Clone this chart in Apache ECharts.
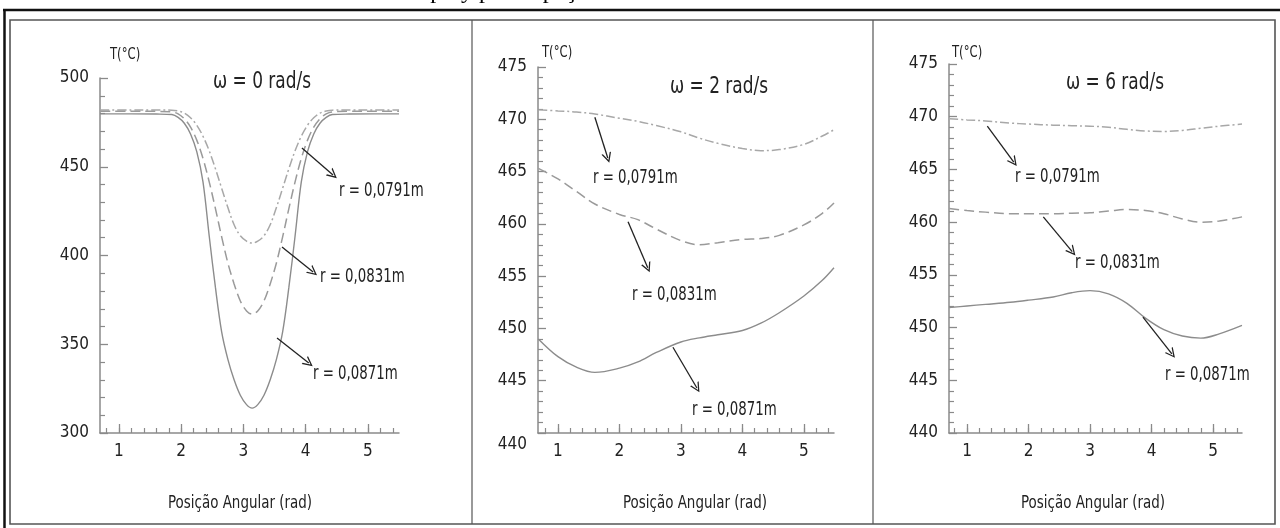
<!DOCTYPE html>
<html><head><meta charset="utf-8">
<script src="https://cdn.jsdelivr.net/npm/echarts@6/dist/echarts.min.js"></script>
<style>html,body{margin:0;padding:0;background:#fff}#c{width:1280px;height:528px}</style>
</head><body><div id="c"></div>
<script>
// ---------- data ----------
const X_LABELS = [1, 2, 3, 4, 5];
const TITLES = ['ω = 0 rad/s', 'ω = 2 rad/s', 'ω = 6 rad/s'];
const RADII = ['r = 0,0791m', 'r = 0,0831m', 'r = 0,0871m'];

// Panel 1 (ω = 0)
const P1_X = [0.7, 1.2, 1.6, 1.85, 1.95, 2.05, 2.15, 2.25, 2.35, 2.45, 2.55, 2.65, 2.75, 2.85, 2.95, 3.05, 3.14,
  3.23, 3.33, 3.43, 3.53, 3.63, 3.73, 3.83, 3.93, 4.03, 4.13, 4.23, 4.33, 4.43, 4.7, 5.1, 5.5];
const P1_T0791 = [482, 482, 482, 481.9, 481.4, 480.2, 477.6, 473.4, 467.2, 459, 448.9, 437.9, 427, 417.3, 411.1, 408.1, 407,
  408.1, 411.1, 417.3, 427, 437.9, 448.9, 459, 467.2, 473.4, 477.6, 480.2, 481.4, 481.9, 482, 482, 482];
const P1_T0831 = [481.2, 481.2, 481.2, 480.9, 479.8, 477, 472.3, 465, 454.7, 441.5, 426.4, 410.5, 395.8, 384, 374.4, 368.8, 367,
  368.8, 374.4, 384, 395.8, 410.5, 426.4, 441.5, 454.7, 465, 472.3, 477, 479.8, 480.9, 481.2, 481.2, 481.2];
const P1_T0871 = [479.8, 479.8, 479.7, 479.4, 477.8, 474.5, 468.5, 458.5, 441.5, 411, 382, 357, 341.5, 330, 321.3, 316, 314,
  316, 321.3, 330, 341.5, 357, 382, 411, 441.5, 458.5, 468.5, 474.5, 477.8, 479.4, 479.7, 479.8, 479.8];

// Panel 2 (ω = 2)
const P2_X = [0.68, 1.0, 1.3, 1.6, 2.0, 2.3, 2.6, 3.0, 3.3, 3.6, 4.0, 4.3, 4.6, 5.0, 5.3, 5.49];
const P2_T0791 = [470.9, 470.8, 470.7, 470.5, 470.1, 469.8, 469.4, 468.8, 468.2, 467.7, 467.2, 467.0, 467.1, 467.6, 468.4, 469.0];
const P2_T0831 = [465.3, 464.3, 463.1, 461.9, 460.9, 460.4, 459.5, 458.4, 458.0, 458.2, 458.5, 458.6, 458.9, 459.9, 461.0, 462.0];
const P2_T0871 = [449.0, 447.3, 446.3, 445.8, 446.2, 446.8, 447.7, 448.7, 449.1, 449.4, 449.8, 450.5, 451.5, 453.1, 454.6, 455.8];

// Panel 3 (ω = 6)
const P3_X = [0.71, 1.0, 1.3, 1.7, 2.0, 2.4, 2.7, 3.0, 3.3, 3.6, 3.9, 4.2, 4.5, 4.8, 5.1, 5.47];
const P3_T0791 = [469.8, 469.7, 469.6, 469.4, 469.3, 469.2, 469.15, 469.1, 469.0, 468.8, 468.65, 468.6, 468.7, 468.9, 469.1, 469.3];
const P3_T0831 = [461.3, 461.1, 460.95, 460.8, 460.8, 460.8, 460.85, 460.9, 461.05, 461.2, 461.1, 460.8, 460.3, 460.0, 460.1, 460.5];
const P3_T0871 = [451.9, 452.05, 452.2, 452.4, 452.6, 452.9, 453.3, 453.5, 453.2, 452.3, 450.9, 449.8, 449.2, 449.0, 449.4, 450.2];

// annotation arrows (data coordinates) [fromX, fromT, toX, toT]
const P1_ARROWS = [[3.94, 460.6, 4.44, 445.4], [3.62, 404.8, 4.12, 390.7], [3.54, 353.5, 4.05, 339.4]];
const P2_ARROWS = [[1.60, 470.2, 1.81, 466.3], [2.14, 460.2, 2.46, 455.8], [2.87, 448.2, 3.26, 444.3]];
const P3_ARROWS = [[1.33, 469.1, 1.76, 465.7], [2.24, 460.5, 2.71, 457.2], [3.86, 451.0, 4.33, 447.5]];

// ---------- chart ----------
const FONT = '"Liberation Sans Narrow", "DejaVu Sans Condensed", "Liberation Sans", sans-serif';
const TXT = '#222';
const AX = '#8a8a8a';
const chart = echarts.init(document.getElementById('c'), null, {renderer: 'canvas'});

const panels = [
  {grid: {left: 100, top: 78, width: 299, height: 355}, xMin: 0.695, xMax: 5.5, yMin: 300, yMax: 500, yInt: 50,
   x: P1_X, s: [P1_T0791, P1_T0831, P1_T0871], arrows: P1_ARROWS},
  {grid: {left: 538, top: 67, width: 296, height: 366}, xMin: 0.675, xMax: 5.49, yMin: 440, yMax: 475, yInt: 5,
   x: P2_X, s: [P2_T0791, P2_T0831, P2_T0871], arrows: P2_ARROWS, lowLabel: true},
  {grid: {left: 949, top: 64, width: 293, height: 369}, xMin: 0.707, xMax: 5.47, yMin: 440, yMax: 475, yInt: 5,
   x: P3_X, s: [P3_T0791, P3_T0831, P3_T0871], arrows: P3_ARROWS}
];

const minorX = [];
for (let v = 0.8; v < 5.5; v += 0.2) minorX.push(Math.round(v * 10) / 10);

const lineStyles = [
  {color: '#a8a8a8', width: 1.5, type: [9, 3, 2, 3]},
  {color: '#9a9a9a', width: 1.5, type: [10, 5]},
  {color: '#8c8c8c', width: 1.4, type: 'solid'}
];

const grid = [], xAxis = [], yAxis = [], series = [];
panels.forEach((p, i) => {
  grid.push(Object.assign({containLabel: false}, p.grid));
  xAxis.push({
    type: 'value', gridIndex: i, min: p.xMin, max: p.xMax, position: 'bottom',
    axisLine: {show: true, onZero: false, lineStyle: {color: AX, width: 1.5}},
    axisTick: {show: true, inside: true, length: 9, customValues: X_LABELS, lineStyle: {color: AX, width: 1.3}},
    axisLabel: {show: true, customValues: X_LABELS, margin: 10, color: TXT, fontFamily: FONT, fontSize: 17},
    splitLine: {show: false}
  });
  xAxis.push({
    type: 'value', gridIndex: i, min: p.xMin, max: p.xMax, position: 'bottom',
    axisLine: {show: false, onZero: false},
    axisTick: {show: true, inside: true, length: 5, customValues: minorX, lineStyle: {color: AX, width: 1.2}},
    axisLabel: {show: false},
    splitLine: {show: false}
  });
  const ya = {
    type: 'value', gridIndex: i, min: p.yMin, max: p.yMax, interval: p.yInt,
    axisLine: {show: true, onZero: false, lineStyle: {color: AX, width: 1.5}},
    axisTick: {show: true, inside: true, length: 8, lineStyle: {color: AX, width: 1.3}},
    minorTick: {show: true, splitNumber: 5, length: 5, lineStyle: {color: AX, width: 1.2}},
    axisLabel: {color: TXT, fontFamily: FONT, fontSize: 17, margin: 11},
    splitLine: {show: false}
  };
  if (p.lowLabel) {
    ya.axisLabel.formatter = v => v === p.yMin ? '{low|' + v + '}' : String(v);
    ya.axisLabel.rich = {low: {color: TXT, fontFamily: FONT, fontSize: 17, padding: [24, 0, 0, 0]}};
  }
  yAxis.push(ya);
  p.s.forEach((arr, k) => {
    const ser = {
      type: 'line', xAxisIndex: i * 2, yAxisIndex: i, smooth: 0.35, symbol: 'none', silent: true,
      data: p.x.map((x, j) => [x, arr[j]]),
      lineStyle: lineStyles[k]
    };
    if (k === 2) {
      ser.markLine = {
        silent: true, animation: false,
        symbol: ['none', 'path://M5,0 L10,10 L8.6,10 L5,2.8 L1.4,10 L0,10 Z'],
        symbolSize: [10, 10],
        label: {show: false},
        lineStyle: {color: '#222', width: 1.3, type: 'solid'},
        data: p.arrows.map(a => [{coord: [a[0], a[1]]}, {coord: [a[2], a[3]]}])
      };
    }
    series.push(ser);
  });
});

function txt(x, y, text, size, align, sx) {
  return {type: 'text', x: x, y: y, scaleX: sx || 1, silent: true,
    style: {text: text, fill: TXT, font: size + 'px ' + FONT, align: align || 'left', verticalAlign: 'middle'}};
}

const graphic = [
  // partially cropped document line at top
  {type: 'text', x: 155, y: 4, silent: true,
   style: {text: 'ratura do Resfriamento e o Spray para a peça de teste', fill: '#000',
     font: '24px "Liberation Serif", "Times New Roman", serif', align: 'left', verticalAlign: 'bottom'}},
  // document frame
  {type: 'line', shape: {x1: 3, y1: 10, x2: 1280, y2: 10}, style: {stroke: '#111', lineWidth: 2.5}, silent: true},
  {type: 'line', shape: {x1: 4.5, y1: 10, x2: 4.5, y2: 528}, style: {stroke: '#111', lineWidth: 2.5}, silent: true},
  {type: 'rect', shape: {x: 10, y: 20, width: 1265, height: 504}, style: {fill: 'none', stroke: '#555', lineWidth: 1.6}, silent: true},
  {type: 'line', shape: {x1: 472, y1: 20, x2: 472, y2: 524}, style: {stroke: '#555', lineWidth: 1.2}, silent: true},
  {type: 'line', shape: {x1: 873, y1: 20, x2: 873, y2: 524}, style: {stroke: '#555', lineWidth: 1.2}, silent: true},
  // panel 1
  txt(262, 82, TITLES[0], 23, 'center', 0.82),
  txt(110, 55, 'T(°C)', 16, 'left', 0.81),
  txt(339, 191, RADII[0], 19, 'left', 0.78), txt(320, 277, RADII[1], 19, 'left', 0.78), txt(313, 374, RADII[2], 19, 'left', 0.78),
  txt(240, 503, 'Posição Angular (rad)', 18, 'center', 0.83),
  // panel 2
  txt(719, 87, TITLES[1], 23, 'center', 0.82),
  txt(542, 53, 'T(°C)', 16, 'left', 0.81),
  txt(593, 178, RADII[0], 19, 'left', 0.78), txt(632, 295, RADII[1], 19, 'left', 0.78), txt(692, 410, RADII[2], 19, 'left', 0.78),
  txt(695, 503, 'Posição Angular (rad)', 18, 'center', 0.83),
  // panel 3
  txt(1115, 83, TITLES[2], 23, 'center', 0.82),
  txt(952, 53, 'T(°C)', 16, 'left', 0.81),
  txt(1015, 177, RADII[0], 19, 'left', 0.78), txt(1075, 263, RADII[1], 19, 'left', 0.78), txt(1165, 375, RADII[2], 19, 'left', 0.78),
  txt(1093, 503, 'Posição Angular (rad)', 18, 'center', 0.83)
];

chart.setOption({
  animation: false,
  backgroundColor: '#fff',
  grid: grid, xAxis: xAxis, yAxis: yAxis, series: series, graphic: graphic
});
</script></body></html>
